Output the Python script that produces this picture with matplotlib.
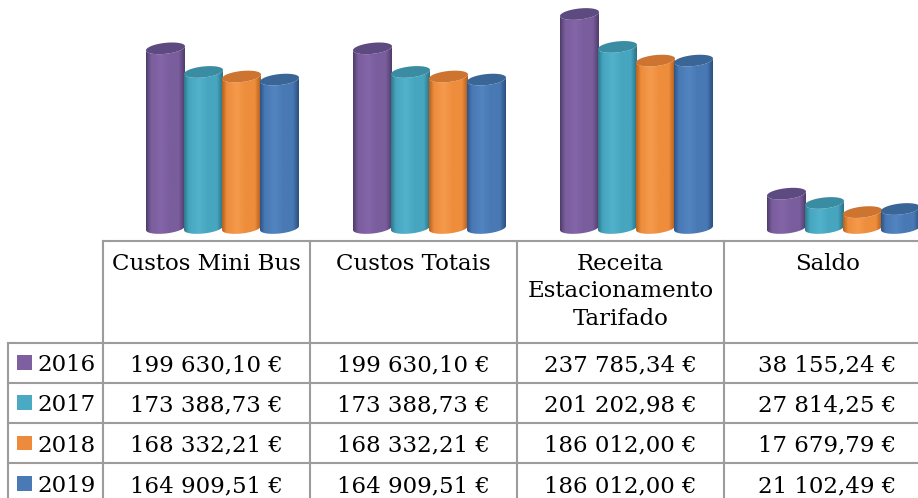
import numpy as np
import matplotlib
matplotlib.use("Agg")
import matplotlib.pyplot as plt
from matplotlib.colors import LinearSegmentedColormap
from matplotlib.patches import Polygon, Rectangle

# data
categories = ["Custos Mini Bus", "Custos Totais", "Receita\nEstacionamento\nTarifado", "Saldo"]
years = ["2016", "2017", "2018", "2019"]
v2016 = [199630.10, 199630.10, 237785.34, 38155.24]
v2017 = [173388.73, 173388.73, 201202.98, 27814.25]
v2018 = [168332.21, 168332.21, 186012.00, 17679.79]
v2019 = [164909.51, 164909.51, 186012.00, 21102.49]
labels2016 = ["199 630,10 €", "199 630,10 €", "237 785,34 €", "38 155,24 €"]
labels2017 = ["173 388,73 €", "173 388,73 €", "201 202,98 €", "27 814,25 €"]
labels2018 = ["168 332,21 €", "168 332,21 €", "186 012,00 €", "17 679,79 €"]
labels2019 = ["164 909,51 €", "164 909,51 €", "186 012,00 €", "21 102,49 €"]
series = [v2016, v2017, v2018, v2019]
cell_labels = [labels2016, labels2017, labels2018, labels2019]

# colours: (left edge, highlight, body, right edge, top face, legend)
palette = [
    ("#4f3d6b", "#8465a8", "#7a5d9d", "#503d6c", "#5d4a80", "#7e60a0"),
    ("#2f7a8d", "#52b2cb", "#47a6bf", "#2c7386", "#3a8ca2", "#4aaac4"),
    ("#b8631f", "#f59a4c", "#ee8d3c", "#b25e1c", "#cc7430", "#ee8a3c"),
    ("#2f5688", "#5284c0", "#4979b4", "#2c5080", "#3a6597", "#4a7ab6"),
]

W, H = 918, 498
fig = plt.figure(figsize=(W / 100, H / 100), dpi=100)

# layout (pixels from top-left)
col_w = 207.0
col0 = 103.0
base_px = 228.0
px_per_eur = 0.0009
bar_w_px = 39.0
bar_step_px = 38.0
group_off_px = -41.0
ell_h_px = 5.5
tilt_px = 2.0

# bar axes: x = category index, y = euros
ax = fig.add_axes([0, 0, 1, 1])
c0 = col0 + col_w / 2
ax.set_xlim((0 - c0) / col_w, (W - c0) / col_w)
ax.set_ylim((base_px - H) / px_per_eur, base_px / px_per_eur)
ax.axis("off")

hw = bar_w_px / 2 / col_w
eh = ell_h_px / px_per_eur
tilt = tilt_px / px_per_eur


def ell(cx, cy, t):
    return cx + hw * np.cos(t), cy + eh * np.sin(t) + tilt * np.cos(t)


z = 2
for ci in range(len(categories)):
    for si, vals in enumerate(series):
        v = vals[ci]
        cx = ci + (group_off_px + si * bar_step_px) / col_w
        le, hi, bo, re, top, _ = palette[si]
        # body outline: front half of bottom, front half of top reversed
        tb = np.linspace(np.pi, 2 * np.pi, 60)
        xb, yb = ell(cx, 0, tb)
        xt, yt = ell(cx, v, tb[::-1])
        body = Polygon(np.column_stack([np.r_[xb, xt], np.r_[yb, yt]]),
                       closed=True, facecolor="none", edgecolor="none", zorder=z)
        ax.add_patch(body)
        cmap = LinearSegmentedColormap.from_list(
            "c", [(0, le), (0.12, bo), (0.38, hi), (0.62, bo), (0.85, bo), (1, re)])
        grad = np.linspace(0, 1, 64).reshape(1, -1)
        im = ax.imshow(grad, cmap=cmap, aspect="auto", interpolation="bilinear",
                       extent=[cx - hw, cx + hw, -eh - tilt, v + eh + tilt],
                       zorder=z)
        im.set_clip_path(body)
        ta = np.linspace(0, 2 * np.pi, 120)
        xe, ye = ell(cx, v, ta)
        ax.add_patch(Polygon(np.column_stack([xe, ye]), closed=True,
                             facecolor=top, edgecolor="none", zorder=z + 0.5))
        z += 1

# table overlay in pixel coordinates
tx = fig.add_axes([0, 0, 1, 1])
tx.set_xlim(0, W)
tx.set_ylim(H, 0)
tx.axis("off")
tx.patch.set_alpha(0)

grid = "#9c9c9c"
lw = 1.5
top_y = 241.0
head_bot = 342.5
row_h = 40.3
lab_left = 8.0
right = col0 + 4 * col_w
font = "DejaVu Serif"
fs = 16.5

tx.plot([col0, right], [top_y, top_y], color=grid, lw=lw)
for r in range(4):
    y = head_bot + r * row_h
    tx.plot([lab_left, right], [y, y], color=grid, lw=lw)
tx.plot([lab_left, lab_left], [head_bot, H + 5], color=grid, lw=lw)
for c in range(5):
    x = col0 + c * col_w
    tx.plot([x, x], [top_y, H + 5], color=grid, lw=lw)

for c, name in enumerate(categories):
    tx.text(col0 + (c + 0.5) * col_w, 253, name, ha="center", va="top",
            fontsize=fs, family=font, linespacing=1.32, color="black")

for r, yr in enumerate(years):
    yc = head_bot + (r + 0.5) * row_h
    tx.add_patch(Rectangle((17, yc - 7.5), 14.5, 14.5, facecolor=palette[r][5],
                           edgecolor="none"))
    tx.text(37, yc, yr, ha="left", va="center_baseline", fontsize=fs,
            family=font, color="black")
    for c in range(4):
        tx.text(col0 + (c + 0.5) * col_w, yc, cell_labels[r][c], ha="center",
                va="center_baseline", fontsize=fs, family=font, color="black")

fig.savefig("out.png", dpi=100)
